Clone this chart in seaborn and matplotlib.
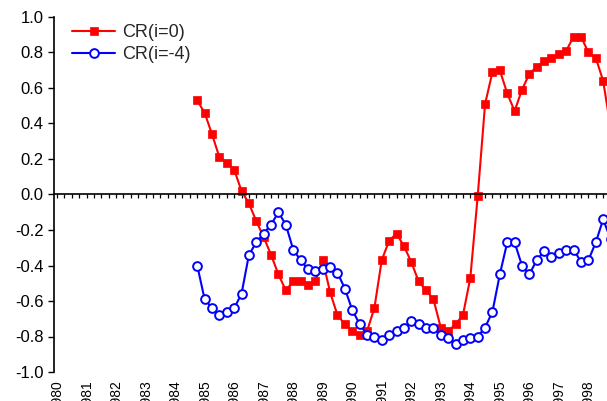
import numpy as np
import pandas as pd
import matplotlib
matplotlib.use("Agg")
import matplotlib.pyplot as plt
import seaborn as sns

# Quarterly observations, 1984Q4 onwards
quarters = pd.period_range("1984Q4", periods=57, freq="Q")

cr_i0 = [0.53, 0.46, 0.34, 0.21, 0.18, 0.14, 0.02, -0.05, -0.15, -0.24,
         -0.34, -0.45, -0.54, -0.49, -0.49, -0.51, -0.49, -0.37, -0.55, -0.68,
         -0.73, -0.77, -0.79, -0.77, -0.64, -0.37, -0.26, -0.22, -0.29, -0.38,
         -0.49, -0.54, -0.59, -0.75, -0.77, -0.73, -0.68, -0.47, -0.01, 0.51,
         0.69, 0.70, 0.57, 0.47, 0.59, 0.68, 0.72, 0.75, 0.77, 0.79,
         0.81, 0.89, 0.89, 0.80, 0.77, 0.64, 0.38]

cr_im4 = [-0.40, -0.59, -0.64, -0.68, -0.66, -0.64, -0.56, -0.34, -0.27, -0.22,
          -0.17, -0.10, -0.17, -0.31, -0.37, -0.42, -0.43, -0.42, -0.41, -0.44,
          -0.53, -0.65, -0.73, -0.79, -0.80, -0.82, -0.79, -0.77, -0.75, -0.71,
          -0.73, -0.75, -0.75, -0.79, -0.81, -0.84, -0.82, -0.81, -0.80, -0.75,
          -0.66, -0.45, -0.27, -0.27, -0.40, -0.45, -0.37, -0.32, -0.35, -0.33,
          -0.31, -0.31, -0.38, -0.37, -0.27, -0.14, -0.25]

years = list(range(1980, 1999))
year_labels = [str(y) for y in years]
y_ticks = [-1.0, -0.8, -0.6, -0.4, -0.2, 0.0, 0.2, 0.4, 0.6, 0.8, 1.0]

t = np.asarray(quarters.year + (quarters.quarter - 1) * 0.25, dtype=float)

sns.set_theme(style="white")
plt.rcParams["font.family"] = ["Liberation Sans", "DejaVu Sans"]
plt.rcParams["axes.unicode_minus"] = False

fig = plt.figure(figsize=(6.07, 4.01), dpi=100)
ax = fig.add_axes([54 / 607, 29 / 401, 553 / 607, 355 / 401])

sns.lineplot(x=t, y=cr_i0, ax=ax, color="#ff0000", linewidth=1.5,
             marker="s", markersize=6, markeredgecolor="#ff0000",
             markeredgewidth=0.5, label="CR(i=0)")
sns.lineplot(x=t, y=cr_im4, ax=ax, color="#0000ff", linewidth=1.5,
             marker="o", markersize=6.3, markerfacecolor="white",
             markeredgecolor="#0000ff", markeredgewidth=1.4, label="CR(i=-4)")

ax.set_xlim(1979.898, 1998.63)
ax.set_ylim(-1.0, 1.0)

for side in ("top", "right"):
    ax.spines[side].set_visible(False)
for side in ("left", "bottom"):
    ax.spines[side].set_color("black")
    ax.spines[side].set_linewidth(1.2)
ax.spines["bottom"].set_position(("data", 0))

ax.set_yticks(y_ticks)
ax.set_yticklabels([f"{v:.1f}" for v in y_ticks])
ax.tick_params(axis="y", direction="out", length=4.5, width=1, color="black",
               labelsize=12, pad=3, left=True, labelcolor="black")

ax.set_xticks(np.arange(1980, 1998.7, 0.25))
ax.tick_params(axis="x", direction="out", length=2.8, width=0.9, color="black",
               bottom=True, labelbottom=False)
ax.set_xlabel("")
ax.set_ylabel("")

# Year labels along the bottom edge of the plot area
for yr, lab in zip(years, year_labels):
    ax.text(yr, -1.045, lab, rotation=90, ha="center", va="top",
            fontsize=10, color="black", clip_on=False)

ax.legend(loc="upper left", bbox_to_anchor=(72 / 607, 1 - 24 / 401),
          bbox_transform=fig.transFigure, frameon=False, fontsize=13,
          handlelength=2.4, handletextpad=0.4, labelspacing=0.3,
          borderpad=0, borderaxespad=0)

fig.savefig("out.png", dpi=100)
